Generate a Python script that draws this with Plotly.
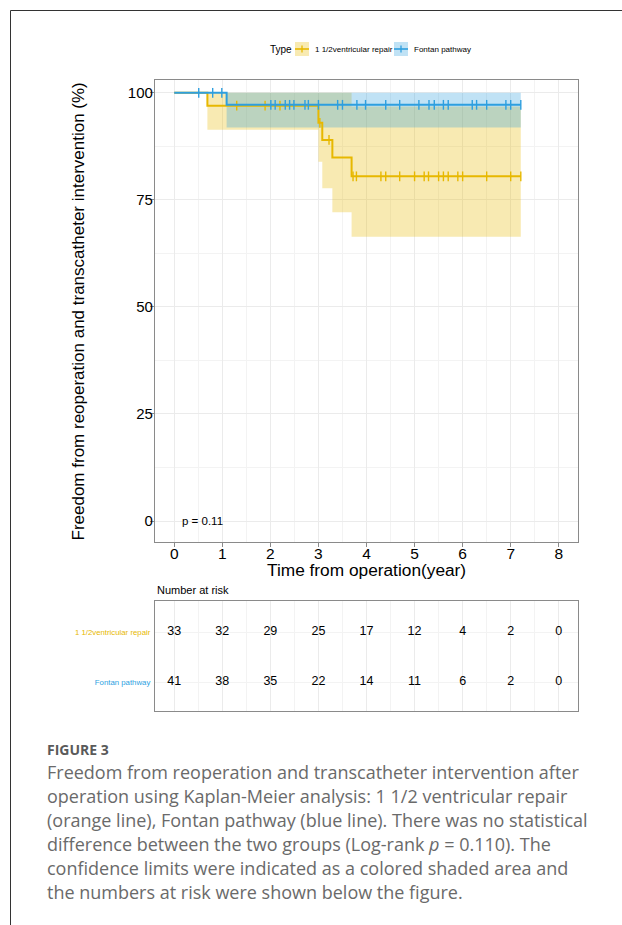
import plotly.graph_objects as go
import numpy as np

W, H = 622, 925

# ---------------- data ----------------
groups = ["1 1/2ventricular repair", "Fontan pathway"]
colors = ["#E7B800", "#2E9FDF"]
fills = ["rgba(231,184,0,0.30)", "rgba(46,159,223,0.30)"]

orange_time = [0, 0.69, 3.00, 3.08, 3.29, 3.69, 7.21]
orange_surv = [100, 97.0, 93.0, 89.0, 84.9, 80.5, 80.5]
orange_upper = [100, 100, 100, 100, 100, 96.8, 96.8]
orange_lower = [100, 91.4, 83.9, 77.7, 72.1, 66.4, 66.4]
orange_censor = [1.30, 1.89, 2.20, 3.03, 3.22, 3.72, 3.79, 4.30, 4.40, 4.69, 5.00, 5.20,
                 5.29, 5.50, 5.60, 5.70, 5.90, 6.00, 6.50, 7.00, 7.21]

blue_time = [0, 1.09, 7.21]
blue_surv = [100, 97.2, 97.2]
blue_upper = [100, 100, 100]
blue_lower = [100, 91.9, 91.9]
blue_censor = [0.51, 0.80, 0.99, 2.01, 2.10, 2.31, 2.40, 2.49, 2.72, 2.79, 3.00, 3.40, 3.50,
               3.80, 3.98, 4.40, 4.69, 5.09, 5.30, 5.41, 5.60, 5.70, 6.20, 6.29, 6.50, 6.90,
               7.00, 7.21]

risk_times = [0, 1, 2, 3, 4, 5, 6, 7, 8]
risk_orange = [33, 32, 29, 25, 17, 12, 4, 2, 0]
risk_blue = [41, 38, 35, 22, 14, 11, 6, 2, 0]

y_ticks = [0, 25, 50, 75, 100]
pval_text = "p = 0.11"
caption_title = "FIGURE 3"
caption_lines = [
    "Freedom from reoperation and transcatheter intervention after",
    "operation using Kaplan-Meier analysis: 1 1/2 ventricular repair",
    "(orange line), Fontan pathway (blue line). There was no statistical",
    "difference between the two groups (Log-rank <i>p</i> = 0.110). The",
    "confidence limits were indicated as a colored shaded area and",
    "the numbers at risk were shown below the figure.",
]

# ---------------- helpers ----------------
def px_x(p):
    return p / W

def px_y(p):
    return 1 - p / H

def step_val(times, vals, t):
    idx = np.searchsorted(np.array(times), t, side="right") - 1
    return vals[max(idx, 0)]

FONT = "Liberation Sans, Arial, sans-serif"
CAPFONT = "Open Sans, sans-serif"
fig = go.Figure()

series = [
    (orange_time, orange_surv, orange_upper, orange_lower, orange_censor),
    (blue_time, blue_surv, blue_upper, blue_lower, blue_censor),
]

# confidence bands
for i, (t, s, up, lo, cen) in enumerate(series):
    fig.add_trace(go.Scatter(x=t, y=lo, mode="lines", line=dict(width=0, shape="hv"),
                             showlegend=False, hoverinfo="skip", xaxis="x", yaxis="y"))
    fig.add_trace(go.Scatter(x=t, y=up, mode="lines", line=dict(width=0, shape="hv"),
                             fill="tonexty", fillcolor=fills[i], showlegend=False,
                             hoverinfo="skip", xaxis="x", yaxis="y"))
# survival curves + censor marks
for i, (t, s, up, lo, cen) in enumerate(series):
    fig.add_trace(go.Scatter(x=t, y=s, mode="lines", line=dict(color=colors[i], width=2, shape="hv"),
                             showlegend=False, name=groups[i], xaxis="x", yaxis="y"))
    cy = [step_val(t, s, c) for c in cen]
    fig.add_trace(go.Scatter(x=cen, y=cy, mode="markers",
                             marker=dict(symbol="line-ns", size=7, line=dict(color=colors[i], width=1.4)),
                             showlegend=False, name=groups[i], xaxis="x", yaxis="y"))

# risk table
for i, vals in enumerate([risk_orange, risk_blue]):
    fig.add_trace(go.Scatter(x=risk_times, y=[1 - i] * len(risk_times), mode="text",
                             text=[str(v) for v in vals], textposition="middle center",
                             textfont=dict(family=FONT, size=12.5, color="black"),
                             showlegend=False, hoverinfo="skip", xaxis="x2", yaxis="y2"))

xdom = [px_x(155), px_x(578)]
grid_major = "#EBEBEB"
grid_minor = "#F3F3F3"
border = "#8a8a8a"
x_minor = [0.5, 1.5, 2.5, 3.5, 4.5, 5.5, 6.5, 7.5]

fig.update_layout(
    width=W, height=H,
    margin=dict(l=0, r=0, t=0, b=0),
    paper_bgcolor="white", plot_bgcolor="white",
    font=dict(family=FONT, color="black"),
    showlegend=False,
    xaxis=dict(domain=xdom, range=[-0.4, 8.4], tickvals=risk_times, ticks="outside", ticklen=4,
               tickcolor=border, tickfont=dict(size=15.5, color="black"), ticklabelstandoff=-7,
               showline=True, linecolor=border, linewidth=1.2, mirror=True,
               showgrid=True, gridcolor=grid_major, gridwidth=1,
               minor=dict(tickvals=x_minor, showgrid=True, gridcolor=grid_minor, gridwidth=1, ticks=""),
               zeroline=False, anchor="y"),
    yaxis=dict(domain=[px_y(542), px_y(80)], range=[-4.9, 103.0], tickvals=y_ticks,
               ticks="outside", ticklen=4, tickcolor=border, tickfont=dict(size=15, color="black"),
               ticklabelstandoff=-6,
               showline=True, linecolor=border, linewidth=1.2, mirror=True,
               showgrid=True, gridcolor=grid_major, gridwidth=1,
               minor=dict(tickvals=[12.5, 37.5, 62.5, 87.5], showgrid=True,
                          gridcolor=grid_minor, gridwidth=1, ticks=""),
               zeroline=False, anchor="x"),
    xaxis2=dict(domain=xdom, range=[-0.4, 8.4], tickvals=risk_times, showticklabels=False,
                ticks="", showline=True, linecolor=border, linewidth=1.2, mirror=True,
                showgrid=True, gridcolor=grid_major,
                minor=dict(tickvals=x_minor, showgrid=True, gridcolor=grid_minor, ticks=""),
                zeroline=False, anchor="y2"),
    yaxis2=dict(domain=[px_y(711), px_y(601)], range=[-0.58, 1.62], tickvals=[1, 0],
                ticktext=[f"<span style='color:{colors[0]}'>{groups[0]}</span>",
                          f"<span style='color:{colors[1]}'>{groups[1]}</span>"],
                tickfont=dict(size=7.8), ticks="", ticklabelstandoff=2,
                showline=True, linecolor=border, linewidth=1.2,
                mirror=True, showgrid=True, gridcolor=grid_minor, zeroline=False, anchor="x2"),
)

ann = []
ann.append(dict(text="Freedom from reoperation and transcatheter intervention (%)", x=px_x(66), y=px_y(312),
                xref="paper", yref="paper", textangle=-90, showarrow=False,
                font=dict(size=17, family=FONT, color="black")))
ann.append(dict(text="Time from operation(year)", x=4, y=px_y(570), xref="x", yref="paper",
                showarrow=False, font=dict(size=17.3, family=FONT, color="black")))
ann.append(dict(text=pval_text, x=0.12, y=0, xref="x", yref="y", xanchor="left", showarrow=False,
                font=dict(size=11.5, family=FONT, color="black")))
ann.append(dict(text="Number at risk", x=px_x(155), y=px_y(590), xref="paper", yref="paper",
                xanchor="left", showarrow=False, font=dict(size=11, family=FONT, color="black")))
# legend (drawn manually to mimic ggplot keys)
ann.append(dict(text="Type", x=px_x(268), y=px_y(49), xref="paper", yref="paper", xanchor="left",
                showarrow=False, font=dict(size=10, family=FONT, color="black")))
ann.append(dict(text=groups[0], x=px_x(313), y=px_y(49), xref="paper", yref="paper", xanchor="left",
                showarrow=False, font=dict(size=8, family=FONT, color="black")))
ann.append(dict(text=groups[1], x=px_x(412), y=px_y(49), xref="paper", yref="paper", xanchor="left",
                showarrow=False, font=dict(size=8, family=FONT, color="black")))
# caption
ann.append(dict(text="<b>" + caption_title + "</b>", x=px_x(45), y=px_y(749), xref="paper", yref="paper",
                xanchor="left", showarrow=False,
                font=dict(size=14, family=CAPFONT, color="#5a5a5a")))
for k, line in enumerate(caption_lines):
    ann.append(dict(text=line, x=px_x(45), y=px_y(772 + 24 * k), xref="paper", yref="paper",
                    xanchor="left", showarrow=False,
                    font=dict(size=18, family=CAPFONT, color="#6a6a6a")))
for a in ann:
    a["yanchor"] = "middle"
fig.update_layout(annotations=ann)

shapes = [
    dict(type="line", xref="paper", yref="paper", x0=px_x(10.5), x1=1, y0=px_y(10.5), y1=px_y(10.5),
         line=dict(color="#333333", width=1)),
    dict(type="line", xref="paper", yref="paper", x0=px_x(10.5), x1=px_x(10.5), y0=px_y(10.5), y1=0,
         line=dict(color="#333333", width=1)),
]
# legend keys
for i, (x0, x1) in enumerate([(295, 309), (394, 408)]):
    y0, y1 = 42, 56
    shapes.append(dict(type="rect", xref="paper", yref="paper", x0=px_x(x0), x1=px_x(x1),
                       y0=px_y(y1), y1=px_y(y0), fillcolor=fills[i], line=dict(width=0)))
    shapes.append(dict(type="line", xref="paper", yref="paper", x0=px_x(x0), x1=px_x(x1),
                       y0=px_y(49), y1=px_y(49), line=dict(color=colors[i], width=1.6)))
    xc = (x0 + x1) / 2
    shapes.append(dict(type="line", xref="paper", yref="paper", x0=px_x(xc), x1=px_x(xc),
                       y0=px_y(45.5), y1=px_y(52.5), line=dict(color=colors[i], width=1.3)))
fig.update_layout(shapes=shapes)

fig.write_html("out.html", config={"displayModeBar": False},
               post_script="document.body.style.margin='0';document.body.style.padding='0';")
